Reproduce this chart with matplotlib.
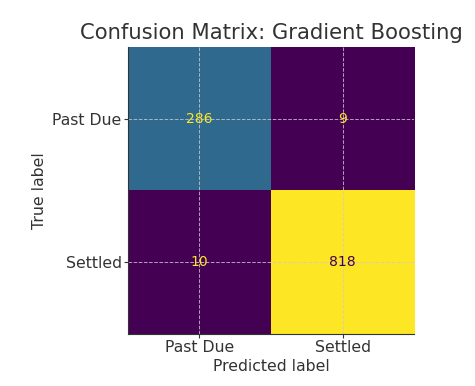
import matplotlib
matplotlib.use("Agg")
import matplotlib.pyplot as plt
import numpy as np

labels = ["Past Due", "Settled"]
cm = np.array([[286, 9],
               [10, 818]])

text_color = "#333333"
fig = plt.figure(figsize=(4.75, 3.86), dpi=100)
ax = fig.add_axes([0.269, 0.135, 0.603, 0.743])
cmap = plt.get_cmap("viridis")
vmin, vmax = cm.min(), cm.max()
ax.imshow(cm, cmap=cmap, vmin=vmin, vmax=vmax, aspect="auto", interpolation="nearest")
thresh = (vmax + vmin) / 2
for i in range(2):
    for j in range(2):
        c = cmap(0.0) if cm[i, j] > thresh else cmap(1.0)
        ax.text(j, i, str(cm[i, j]), ha="center", va="center", color=c, fontsize=10)

ax.set_xticks(range(2))
ax.set_yticks(range(2))
ax.set_xticklabels(labels, fontsize=11.3, color=text_color)
ax.set_yticklabels(labels, fontsize=11.3, color=text_color)
ax.set_xlabel("Predicted label", fontsize=11.3, color=text_color, labelpad=3)
ax.set_ylabel("True label", fontsize=11.3, color=text_color, labelpad=4)
ax.set_title("Confusion Matrix: Gradient Boosting", fontsize=15.2, color=text_color, pad=6)
ax.grid(True, linestyle="--", color="#cccccc", linewidth=0.7, alpha=0.8)
for s in ["top", "right"]:
    ax.spines[s].set_visible(False)
for s in ["left", "bottom"]:
    ax.spines[s].set_color("#333333")
ax.tick_params(colors="#333333", length=3, pad=1.5)
fig.savefig("out.png", dpi=100)
